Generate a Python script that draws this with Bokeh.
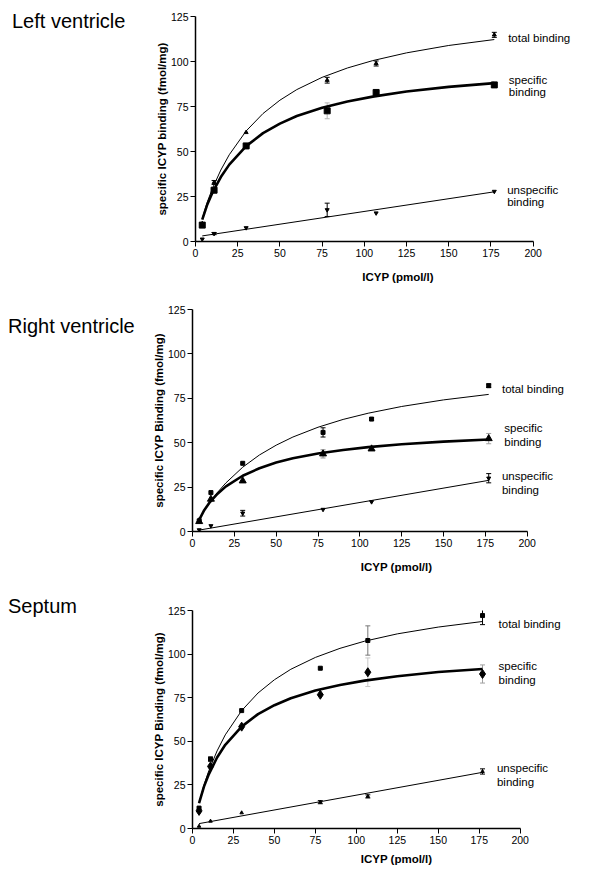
from bokeh.plotting import figure
from bokeh.layouts import column, row
from bokeh.models import Range1d, FixedTicker, Label, Whisker, TeeHead, ColumnDataSource, Div
from bokeh.embed import file_html
from bokeh.resources import INLINE

# ---------------- data ----------------
conc = [4, 11, 30, 78, 107, 177]                       # ICYP (pmol/l)
fit_x = [4, 7, 10, 15, 20, 30, 40, 50, 60, 75, 90, 105, 125, 150, 177]
lin_x = [4, 177]

# Left ventricle
lv_total = [10.0, 32.8, 60.6, 89.6, 98.9, 114.8]
lv_total_err = [0, 1.1, 0, 1.6, 1.4, 1.4]
lv_spec = [9.1, 28.5, 53.1, 72.6, 82.8, 87.0]
lv_spec_err = [0.8, 0.8, 0.8, 4.4, 1.0, 1.0]
lv_unspec = [1.3, 4.4, 7.6, 17.6, 15.8, 27.8]
lv_unspec_err = [0, 0.6, 0, 3.7, 0, 0]
lv_total_fit = [12.8, 22.0, 29.4, 39.7, 48.2, 61.4, 71.1, 78.5, 84.4, 91.2, 96.4, 100.5, 104.8, 108.9, 112.2]
lv_spec_fit = [12.2, 20.6, 27.1, 35.8, 42.7, 53.0, 60.2, 65.5, 69.7, 74.3, 77.8, 80.5, 83.3, 85.9, 88.0]
lv_unspec_fit = [3.1, 27.6]

# Right ventricle
rv_total = [6.0, 21.9, 38.4, 55.8, 63.3, 82.1]
rv_total_err = [0, 0, 0, 2.6, 0.8, 1.0]
rv_spec = [5.6, 18.2, 28.5, 43.7, 46.5, 52.3]
rv_spec_err = [0, 0, 0, 2.3, 0, 2.9]
rv_unspec = [0.9, 3.2, 10.3, 12.4, 16.7, 30.0]
rv_unspec_err = [0, 0, 1.6, 0, 0, 2.6]
rv_total_fit = [6.8, 11.7, 15.9, 22.1, 27.4, 36.2, 43.1, 48.6, 53.2, 58.7, 63.1, 66.6, 70.4, 74.1, 77.2]
rv_spec_fit = [6.6, 12.0, 16.1, 21.3, 25.4, 31.4, 35.6, 38.8, 41.2, 43.9, 45.9, 47.5, 49.1, 50.6, 51.8]
rv_unspec_fit = [0.8, 28.8]

# Septum
sp_total = [11.7, 39.8, 67.6, 91.9, 107.8, 122.1]
sp_total_err = [0, 1.2, 0, 0, 8.4, 5.2]
sp_spec = [10.1, 35.6, 58.4, 76.7, 89.6, 88.6]
sp_spec_err = [0, 0, 0, 0, 8.2, 5.2]
sp_unspec = [1.3, 4.2, 9.0, 15.1, 18.4, 32.7]
sp_unspec_err = [0, 0, 0, 0.9, 0.9, 1.5]
sp_total_fit = [14.5, 25.0, 33.2, 44.5, 53.7, 67.6, 77.7, 85.3, 91.3, 98.1, 103.3, 107.4, 111.6, 115.5, 118.7]
sp_spec_fit = [14.5, 24.0, 31.2, 40.7, 48.0, 58.4, 65.6, 70.7, 74.7, 79.1, 82.3, 84.8, 87.3, 89.7, 91.5]
sp_unspec_fit = [2.8, 32.2]

x_ticks = [0, 25, 50, 75, 100, 125, 150, 175, 200]
y_ticks = [0, 25, 50, 75, 100, 125]

# ---------------- style ----------------
FONT = "Liberation Sans"
DIV_W = 140
FIG_W = 460
lv_spec_err_col = ["black", "black", "black", "#b4b4b4", "black", "black"]
rv_spec_err_col = ["black", "black", "black", "#8c8c8c", "black", "#a0a0a0"]
sp_total_err_col = ["black", "black", "black", "black", "#777777", "black"]
sp_spec_err_col = ["black", "black", "black", "black", "#c8c8c8", "#a0a0a0"]


def add_err(p, xs, ys, errs, cols=None):
    groups = {}
    for i, (x, y, e) in enumerate(zip(xs, ys, errs)):
        if e <= 0:
            continue
        c = cols[i] if cols else "black"
        g = groups.setdefault(c, dict(base=[], lower=[], upper=[]))
        g["base"].append(x)
        g["lower"].append(y - e)
        g["upper"].append(y + e)
    for c, g in groups.items():
        src = ColumnDataSource(g)
        w = Whisker(base="base", lower="lower", upper="upper", source=src,
                    line_color=c, line_width=1,
                    upper_head=TeeHead(size=5, line_color=c, line_width=1),
                    lower_head=TeeHead(size=5, line_color=c, line_width=1))
        p.add_layout(w)


def make_panel(cfg):
    p = figure(width=FIG_W, height=cfg["height"],
               x_range=Range1d(0, cfg["x_end"]), y_range=Range1d(0, 125),
               output_backend="svg", toolbar_location=None,
               min_border_left=cfg["bl"], min_border_right=0,
               min_border_top=cfg["bt"], min_border_bottom=cfg["bb"])
    p.outline_line_color = None
    p.xgrid.visible = False
    p.ygrid.visible = False

    p.xaxis.bounds = (0, 200)
    p.xaxis.ticker = FixedTicker(ticks=x_ticks)
    p.yaxis.ticker = FixedTicker(ticks=y_ticks)
    for ax in (p.xaxis[0], p.yaxis[0]):
        ax.axis_line_width = 1.5
        ax.axis_line_color = "black"
        ax.major_tick_line_color = "black"
        ax.major_tick_line_width = 1
        ax.major_tick_in = 0
        ax.major_tick_out = 5
        ax.minor_tick_line_color = None
        ax.major_label_text_font = FONT
        ax.major_label_text_font_size = "10.5px"
        ax.major_label_text_color = "black"
        ax.major_label_standoff = 2
        ax.axis_label_text_font = FONT
        ax.axis_label_text_font_size = "11.5px"
        ax.axis_label_text_font_style = "bold"
        ax.axis_label_text_color = "black"
    p.xaxis.axis_label = "ICYP (pmol/l)"
    p.xaxis.axis_label_standoff = cfg["xstand"]
    p.yaxis.axis_label = cfg["ylabel"]
    p.yaxis.axis_label_standoff = 0

    # fitted curves
    p.line(fit_x, cfg["total_fit"], line_color="black", line_width=1)
    p.line(fit_x, cfg["spec_fit"], line_color="black", line_width=2.6)
    p.line(lin_x, cfg["unspec_fit"], line_color="black", line_width=1)

    # error bars
    add_err(p, conc, cfg["total"], cfg["total_err"], cfg.get("total_err_col"))
    add_err(p, conc, cfg["spec"], cfg["spec_err"], cfg.get("spec_err_col"))
    add_err(p, conc, cfg["unspec"], cfg["unspec_err"])

    # markers
    for key in ("total", "spec", "unspec"):
        m, s = cfg[key + "_marker"]
        p.scatter(conc, cfg[key], marker=m, size=s, color="black")

    # curve labels
    for (tx, ty, txt) in cfg["labels"]:
        p.add_layout(Label(x=tx, y=ty, text=txt, text_font=FONT, text_font_size="11.5px",
                           text_baseline="middle", text_align="left", text_color="black"))

    pl, pt = cfg["title_pad"]
    div = Div(text=(f'<div style="font-family: \'{FONT}\'; font-size: 20px; line-height: 23px; '
                    f'color: black; white-space: nowrap; padding-left: {pl}px; padding-top: {pt}px;">'
                    f'{cfg["title"]}</div>'),
              width=DIV_W, height=cfg["height"], margin=0)
    return row(div, p, spacing=0)


panels = [
    dict(title="Left ventricle", ylabel="specific ICYP binding (fmol/mg)",
         height=290, bt=16, bb=49, bl=55, x_end=239.9, xstand=11,
         title_pad=(12, 9.5),
         total=lv_total, total_err=lv_total_err, spec=lv_spec, spec_err=lv_spec_err,
         unspec=lv_unspec, unspec_err=lv_unspec_err, spec_err_col=lv_spec_err_col,
         total_fit=lv_total_fit, spec_fit=lv_spec_fit, unspec_fit=lv_unspec_fit,
         total_marker=("triangle", 4), spec_marker=("square", 6), unspec_marker=("inverted_triangle", 4),
         labels=[(185.2, 113, "total binding"), (185.6, 89.8, "specific"), (185.6, 83.3, "binding"),
                 (184.6, 28.5, "unspecific"), (184.6, 21.7, "binding")]),
    dict(title="Right ventricle", ylabel="specific ICYP Binding (fmol/mg)",
         height=290, bt=19, bb=49, bl=52, x_end=243.8, xstand=11,
         title_pad=(8, 24.9),
         total=rv_total, total_err=rv_total_err, spec=rv_spec, spec_err=rv_spec_err,
         unspec=rv_unspec, unspec_err=rv_unspec_err, spec_err_col=rv_spec_err_col,
         total_fit=rv_total_fit, spec_fit=rv_spec_fit, unspec_fit=rv_unspec_fit,
         total_marker=("square", 4), spec_marker=("triangle", 7), unspec_marker=("inverted_triangle", 4),
         labels=[(184.9, 80, "total binding"), (186.3, 58.1, "specific"), (186.3, 50.3, "binding"),
                 (184.9, 31.3, "unspecific"), (184.9, 23.4, "binding")]),
    dict(title="Septum", ylabel="specific ICYP Binding (fmol/mg)",
         height=292, bt=30, bb=44, bl=52, x_end=249.0, xstand=6,
         title_pad=(8, 14.9),
         total=sp_total, total_err=sp_total_err, spec=sp_spec, spec_err=sp_spec_err,
         unspec=sp_unspec, unspec_err=sp_unspec_err,
         total_err_col=sp_total_err_col, spec_err_col=sp_spec_err_col,
         total_fit=sp_total_fit, spec_fit=sp_spec_fit, unspec_fit=sp_unspec_fit,
         total_marker=("square", 4), spec_marker=("diamond", 9), unspec_marker=("triangle", 3.5),
         labels=[(186.8, 117, "total binding"), (186.8, 93.4, "specific"), (186.8, 85.4, "binding"),
                 (185.8, 34.5, "unspecific"), (185.8, 26.8, "binding")]),
]

rows = [make_panel(c) for c in panels]
layout = column(*rows, spacing=0)

open("out.html", "w").write(file_html(layout, INLINE))
